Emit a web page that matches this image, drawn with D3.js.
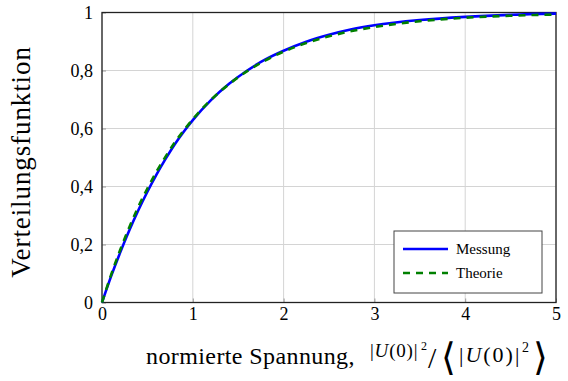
<!DOCTYPE html>
<html lang="de">
<head>
<meta charset="UTF-8">
<title>Verteilungsfunktion</title>
<script src="https://cdn.jsdelivr.net/npm/d3@7"></script>
<style>
    body{ margin:0; background:#fff; }
    svg text{ font-family:"Liberation Serif", serif; fill:#000; }
    .grid line{ stroke:#d4d4d4; stroke-width:1; }
</style>
</head>
<body>
<div id="grafico"></div>
<script>

// values
var xs      = [0, 0.1, 0.2, 0.3, 0.4, 0.5, 0.6, 0.7, 0.8, 0.9, 1, 1.2, 1.4, 1.6, 1.8, 2, 2.25, 2.5, 2.75, 3, 3.5, 4, 4.5, 5];
var messung = [0, 0.09, 0.172, 0.248, 0.318, 0.382, 0.441, 0.495, 0.545, 0.589, 0.629, 0.698, 0.754, 0.8, 0.838, 0.868, 0.899, 0.923, 0.942, 0.956, 0.974, 0.985, 0.992, 0.996];
var theorie = [0, 0.095, 0.181, 0.259, 0.33, 0.393, 0.451, 0.503, 0.551, 0.593, 0.632, 0.699, 0.753, 0.798, 0.835, 0.865, 0.895, 0.918, 0.936, 0.95, 0.97, 0.982, 0.989, 0.993];
var xTicks = [0, 1, 2, 3, 4, 5];
var yTicks = [0, 0.2, 0.4, 0.6, 0.8, 1];
var series = [
    {name: "Messung", values: messung, color: "#0000ff", dash: null},
    {name: "Theorie", values: theorie, color: "#008000", dash: "7,6"}
];

var w = 568, h = 381;
var m = {left: 102, right: 12, top: 12.5, bottom: 78.5};
var fuente = "Liberation Serif, serif";

var svg = d3.select("#grafico").append("svg")
    .attr("width", w).attr("height", h);

var x = d3.scaleLinear().domain([0, 5]).range([m.left, w - m.right]);
var y = d3.scaleLinear().domain([0, 1]).range([h - m.bottom, m.top]);

// gridlines
var grid = svg.append("g").classed("grid", true);
grid.selectAll(".gx").data(xTicks).enter().append("line")
    .attr("x1", function(d){ return x(d); }).attr("x2", function(d){ return x(d); })
    .attr("y1", y(0)).attr("y2", y(1));
grid.selectAll(".gy").data(yTicks).enter().append("line")
    .attr("y1", function(d){ return y(d); }).attr("y2", function(d){ return y(d); })
    .attr("x1", x(0)).attr("x2", x(5));

// axes
svg.append("g")
    .attr("transform", "translate(0," + y(0) + ")")
    .call(d3.axisBottom(x).tickValues(xTicks).tickSize(-4).tickPadding(5)
        .tickFormat(function(d){ return String(d); }));
svg.append("g")
    .attr("transform", "translate(" + x(0) + ",0)")
    .call(d3.axisLeft(y).tickValues(yTicks).tickSize(-4).tickPadding(9)
        .tickFormat(function(d){ return String(d).replace(".", ","); }));
svg.selectAll(".domain").remove();
svg.selectAll(".tick line").attr("stroke", "#999");
svg.selectAll(".tick text").attr("font-family", fuente).attr("font-size", 18);

// frame
svg.append("rect")
    .attr("x", x(0)).attr("y", y(1))
    .attr("width", x(5) - x(0)).attr("height", y(0) - y(1))
    .attr("fill", "none").attr("stroke", "#222").attr("stroke-width", 1.3);

// curves
var line = d3.line()
    .x(function(d, i){ return x(xs[i]); })
    .y(function(d){ return y(d); })
    .curve(d3.curveMonotoneX);

svg.selectAll(".curva").data(series).enter().append("path")
    .attr("d", function(s){ return line(s.values); })
    .attr("fill", "none")
    .attr("stroke", function(s){ return s.color; })
    .attr("stroke-width", 2.6)
    .attr("stroke-dasharray", function(s){ return s.dash; });

// legend
var leg = svg.append("g");
leg.append("rect")
    .attr("x", 394).attr("y", 231).attr("width", 148).attr("height", 62)
    .attr("fill", "#fff").attr("stroke", "#444").attr("stroke-width", 1);
series.forEach(function(s, i){
    var ly = 249 + i * 24;
    leg.append("line")
        .attr("x1", 403).attr("x2", 448).attr("y1", ly).attr("y2", ly)
        .attr("stroke", s.color).attr("stroke-width", 2.6)
        .attr("stroke-dasharray", s.dash);
    leg.append("text").text(s.name)
        .attr("font-family", fuente)
        .attr("x", 456).attr("y", ly + 5).attr("font-size", 15);
});

// axis titles
svg.append("text")
    .attr("transform", "translate(30,162) rotate(-90)")
    .attr("text-anchor", "middle")
    .attr("font-family", fuente)
    .attr("font-size", 27)
    .attr("letter-spacing", 0.9)
    .text("Verteilungsfunktion");

svg.append("text")
    .attr("x", 146).attr("y", 364)
    .attr("font-family", fuente)
    .attr("font-size", 24)
    .attr("letter-spacing", 0.4)
    .text("normierte Spannung,");

var mat = svg.append("text")
    .attr("font-family", fuente)
    .attr("font-size", 19);
mat.append("tspan").attr("x", 370).attr("y", 357).attr("letter-spacing", 0.8).text("|");
mat.append("tspan").attr("font-style", "italic").attr("letter-spacing", 0.8).text("U");
mat.append("tspan").attr("letter-spacing", 0.8).text("(0)|");
mat.append("tspan").attr("font-size", 12).attr("x", 421).attr("y", 350).text("2");
mat.append("tspan").attr("font-size", 30).attr("x", 428).attr("y", 368).text("/");
mat.append("tspan").attr("font-size", 38).attr("x", 441).attr("y", 370).text("⟨");
mat.append("tspan").attr("font-size", 22).attr("x", 459).attr("y", 362).attr("letter-spacing", 2).text("|");
mat.append("tspan").attr("font-size", 22).attr("font-style", "italic").attr("letter-spacing", 2).text("U");
mat.append("tspan").attr("font-size", 22).attr("letter-spacing", 2).text("(0)|");
mat.append("tspan").attr("font-size", 14).attr("x", 522).attr("y", 352).text("2");
mat.append("tspan").attr("font-size", 38).attr("x", 533).attr("y", 370).text("⟩");

</script>
</body>
</html>
